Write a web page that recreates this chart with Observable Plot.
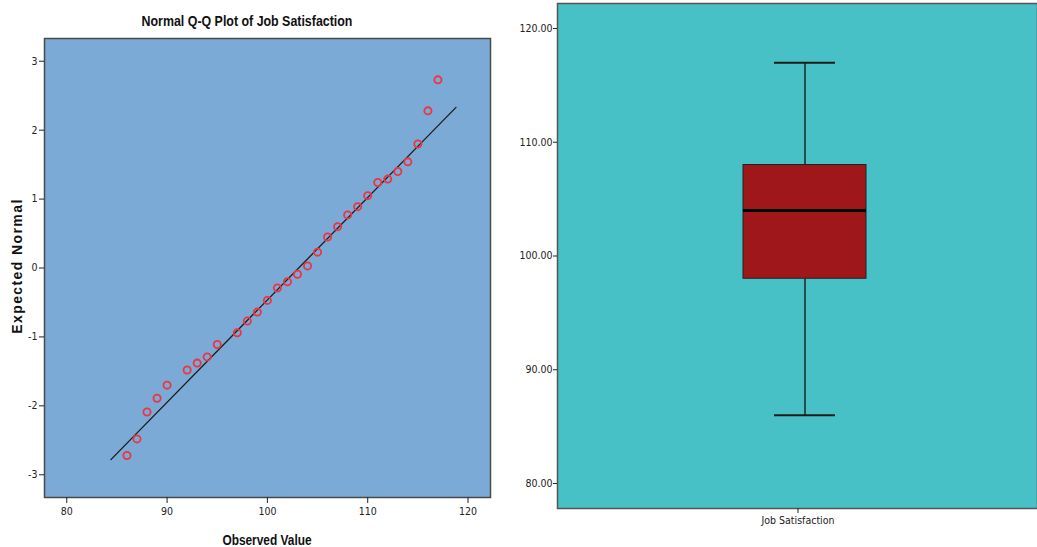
<!DOCTYPE html>
<html>
<head>
<meta charset="utf-8">
<script src="https://cdn.jsdelivr.net/npm/d3@7"></script>
<script src="https://cdn.jsdelivr.net/npm/@observablehq/plot@0.6"></script>
<style>
  html, body { margin: 0; padding: 0; background: #fff; }
  #wrap { position: relative; width: 1037px; height: 547px; overflow: hidden; }
  #title { position: absolute; left: 247px; top: 21px; transform: translate(-50%, -50%) scaleX(0.8); white-space: nowrap;
           font-family: "Liberation Sans", Arial, sans-serif; font-weight: bold; font-size: 15.5px; color: #111; }
  #ylab { position: absolute; left: 17px; top: 266px; transform: translate(-50%, -50%) rotate(-90deg); white-space: nowrap;
          font-family: "Liberation Sans", Arial, sans-serif; font-weight: bold; font-size: 14px; letter-spacing: 1.4px; color: #111; }
  #xlab { position: absolute; left: 267px; top: 540px; transform: translate(-50%, -50%) scaleX(0.82); white-space: nowrap;
          font-family: "Liberation Sans", Arial, sans-serif; font-weight: bold; font-size: 14.5px; color: #111; }
  #left { position: absolute; left: 0; top: 0; }
  #right { position: absolute; left: 500px; top: 0; }
</style>
</head>
<body>
<div id="wrap">
  <div id="left"></div>
  <div id="right"></div>
  <div id="title">Normal Q-Q Plot of Job Satisfaction</div>
  <div id="ylab">Expected Normal</div>
  <div id="xlab">Observed Value</div>
</div>
<script>
// ---- Q-Q plot data ----
const qqObserved = [86, 87, 88, 89, 90, 92, 93, 94, 95, 97, 98, 99, 100, 101, 102, 103, 104, 105, 106, 107, 108, 109, 110, 111, 112, 113, 114, 115, 116, 117];
const qqExpected = [-2.72, -2.48, -2.09, -1.89, -1.70, -1.48, -1.38, -1.29, -1.11, -0.94, -0.77, -0.64, -0.47, -0.29, -0.20, -0.09, 0.03, 0.23, 0.45, 0.60, 0.77, 0.89, 1.05, 1.24, 1.29, 1.40, 1.54, 1.80, 2.28, 2.73];
const lineObserved = [84.4, 118.8];
const lineExpected = [-2.78, 2.33];
const qqXTicks = [80, 90, 100, 110, 120];
const qqYTicks = [-3, -2, -1, 0, 1, 2, 3];

// ---- Box plot data ----
const boxCategory = ["Job Satisfaction"];
const boxMin = [86];
const boxQ1 = [98];
const boxMedian = [104];
const boxQ3 = [108];
const boxMax = [117];
const boxYTicks = [80, 90, 100, 110, 120];

const qqData = qqObserved.map((x, i) => ({x, y: qqExpected[i]}));
const lineData = lineObserved.map((x, i) => ({x, y: lineExpected[i]}));
const boxData = boxCategory.map((c, i) => ({c, min: boxMin[i], q1: boxQ1[i], med: boxMedian[i], q3: boxQ3[i], max: boxMax[i]}));

const tickFont = {fontFamily: '"Liberation Sans Narrow", "Arial Narrow", "DejaVu Sans Condensed", "Liberation Sans", sans-serif', fontSize: "10.5px", color: "#222", background: "transparent", overflow: "visible"};

const left = Plot.plot({
  width: 500, height: 547,
  marginTop: 38, marginBottom: 50, marginLeft: 44, marginRight: 10,
  style: tickFont,
  x: {domain: [77.78, 122.24]},
  y: {domain: [-3.33, 3.33]},
  marks: [
    Plot.frame({fill: "#7BAAD6", stroke: "#4a4a4a", strokeWidth: 1.5}),
    Plot.line(lineData, {x: "x", y: "y", stroke: "#1c1c1c", strokeWidth: 1.3}),
    Plot.dot(qqData, {x: "x", y: "y", r: 3.6, stroke: "#ef3340", strokeWidth: 1.8, fill: "none"}),
    Plot.axisX({ticks: qqXTicks, tickSize: 6, tickPadding: 4, label: null, tickFormat: d => String(d)}),
    Plot.axisY({ticks: qqYTicks, tickSize: 5, tickPadding: 2, label: null, tickFormat: d => String(d)})
  ]
});
document.getElementById("left").appendChild(left);

const right = Plot.plot({
  width: 537, height: 547,
  marginTop: 3, marginBottom: 39, marginLeft: 57, marginRight: 0,
  style: tickFont,
  x: {type: "band", domain: boxCategory, padding: 0.593},
  y: {domain: [77.8, 122.2]},
  marks: [
    Plot.frame({fill: "#48C1C6", stroke: "#555", strokeWidth: 1.5}),
    Plot.ruleX(boxData, {x: "c", y1: "q3", y2: "max", stroke: "#1a1a1a", strokeWidth: 1.4, dx: 7}),
    Plot.ruleX(boxData, {x: "c", y1: "min", y2: "q1", stroke: "#1a1a1a", strokeWidth: 1.4, dx: 7}),
    Plot.tickY(boxData, {x: "c", y: "max", stroke: "#1a1a1a", strokeWidth: 2, inset: 31, dx: 7}),
    Plot.tickY(boxData, {x: "c", y: "min", stroke: "#1a1a1a", strokeWidth: 2, inset: 31, dx: 7}),
    Plot.barY(boxData, {x: "c", y1: "q1", y2: "q3", fill: "#A0171B", stroke: "#222", strokeWidth: 1, dx: 7}),
    Plot.tickY(boxData, {x: "c", y: "med", stroke: "#000", strokeWidth: 3, dx: 7}),
    Plot.axisX({tickSize: 5, tickPadding: 3, label: null}),
    Plot.axisY({ticks: boxYTicks, tickSize: 4, tickPadding: 1, label: null, tickFormat: d => d.toFixed(2)})
  ]
});
document.getElementById("right").appendChild(right);
</script>
</body>
</html>
